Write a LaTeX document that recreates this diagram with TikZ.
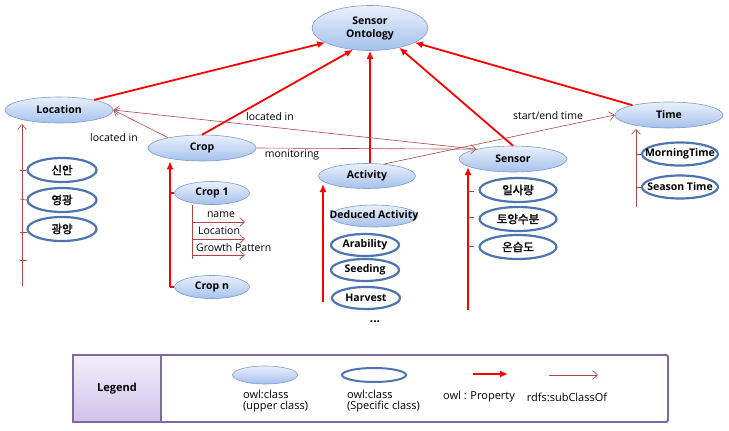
\documentclass[tikz,border=0pt]{standalone}
\usepackage{fontspec}
\setmainfont{Open Sans}
\newfontfamily\kr[AutoFakeBold=1.8]{Noto Sans CJK KR}
\usetikzlibrary{arrows.meta,shapes.geometric}

\definecolor{specblue}{RGB}{79,117,176}
\definecolor{upedge}{RGB}{125,155,205}
\definecolor{uptop}{RGB}{234,240,252}
\definecolor{upbot}{RGB}{165,193,236}
\definecolor{subred}{RGB}{175,70,70}
\definecolor{legline}{RGB}{128,104,160}
\definecolor{legtop}{RGB}{242,238,250}
\definecolor{legbot}{RGB}{208,194,234}

\tikzset{
  nogrow/.style={execute at begin node={\hbox to 0pt\bgroup\hss},
                 execute at end node={\hss\egroup}},
  upper/.style={ellipse, draw=upedge, line width=0.6pt, top color=uptop,
                bottom color=upbot, inner sep=0pt,
                font=\fontsize{10.5}{13}\selectfont\bfseries},
  spec/.style={ellipse, draw=specblue, line width=2.2pt, fill=white,
               inner sep=0pt, font=\fontsize{10.5}{13}\selectfont\bfseries, nogrow},
  prop/.style={red, line width=1.8pt, -{Latex[length=8pt,width=7pt]}},
  propline/.style={red, line width=1.8pt},
  sub/.style={subred, line width=0.6pt, -{Straight Barb[length=5pt,width=9pt]}},
  tick/.style={subred, line width=0.6pt},
  lbl/.style={inner sep=0pt, font=\fontsize{10.5}{11}\selectfont},
  leglbl/.style={inner sep=0pt, font=\fontsize{11}{11}\selectfont},
  krtxt/.style={font=\fontsize{11.5}{13}\selectfont\bfseries\kr}
}

\begin{document}
\begin{tikzpicture}[x=1pt,y=-1pt]
\useasboundingbox (0,0) rectangle (729,431);

% upper classes
\node[upper, minimum width=116pt, minimum height=45pt, align=center] (onto) at (370,28) {Sensor\\Ontology};
\node[upper, nogrow, minimum width=108pt, minimum height=26pt] (loc) at (59,110) {Location};
\node[upper, nogrow, minimum width=108pt, minimum height=26pt] (crop) at (202,148) {Crop};
\node[upper, nogrow, minimum width=97pt, minimum height=25pt] (act) at (367,176) {Activity};
\node[upper, nogrow, minimum width=108pt, minimum height=26pt] (sens) at (513,159) {Sensor};
\node[upper, nogrow, minimum width=108pt, minimum height=26pt] (time) at (669,115) {Time};

\draw[prop] (loc.16) -- (onto.198);
\draw[prop] (crop.north) -- (onto.232);
\draw[prop] (onto.south |- act.north) -- (onto.south);
\draw[prop] (sens.north) -- (onto.326);
\draw[prop] (time.165) -- (onto.342);

\draw[sub] (crop.163) -- (loc.east);
\draw[sub] (sens.165) -- (loc.east);
\draw[sub] (crop.east) -- (sens.165);
\draw[sub] (act.35) -- (time.west);
\node[lbl] (lblCropLoc) at (114,138) {located in};
\node[lbl] (lblSensLoc) at (270,117) {located in};
\node[lbl] (lblMon) at (292,155) {monitoring};
\node[lbl] (lblTime) at (548,116) {start/end time};

% Location
\node[spec, krtxt, minimum width=69pt, minimum height=24pt] (sinan) at (62,170) {신안};
\node[spec, krtxt, minimum width=69pt, minimum height=24pt] (yeong) at (62,200) {영광};
\node[spec, krtxt, minimum width=69pt, minimum height=24pt] (gwang) at (62,229) {광양};
\coordinate (locTop) at (22,124);
\coordinate (locBot) at (22,286);
\draw[sub] (locBot) -- (locTop);
\draw[tick] (20,170) -- (sinan.west);
\draw[tick] (20,199) -- (yeong.west);
\draw[tick] (20,232) -- ++(7,0);
\draw[tick] (20,260) -- ++(7,0);

% Crop
\node[upper, nogrow, minimum width=75pt, minimum height=23pt] (crop1) at (212,193) {Crop 1};
\node[upper, nogrow, minimum width=75pt, minimum height=23pt] (cropn) at (212,287) {Crop n};
\coordinate (cropBot) at (170,287);
\draw[prop] (cropBot) -- (cropBot |- crop.south);
\draw[propline] (cropBot |- crop1.west) -- (crop1.west);
\draw[propline] (cropBot |- cropn.west) -- (cropn.west);
\coordinate (attTop) at (192,205);
\coordinate (attBot) at (192,259);
\draw[tick] (attTop) -- (attBot);
\draw[sub] (192,222) -- ++(53,0);
\draw[sub] (192,239) -- ++(53,0);
\draw[sub] (192,255) -- ++(53,0);
\node[lbl] (attName) at (221,215) {name};
\node[lbl, anchor=west] (attLoc) at (198,231) {Location};
\node[lbl, anchor=west] (attGrow) at (196,248) {Growth Pattern};

% Activity
\node[upper, nogrow, minimum width=87pt, minimum height=22pt] (deduced) at (374,216) {Deduced Activity};
\node[spec, minimum width=68pt, minimum height=22pt] (arab) at (365,245) {Arability};
\node[spec, minimum width=68pt, minimum height=22pt] (seed) at (365,270) {Seeding};
\node[spec, minimum width=68pt, minimum height=22pt] (harv) at (366,298) {Harvest};
\node[font=\fontsize{12}{13}\selectfont\bfseries, inner sep=0pt] (actMore) at (375,322) {...};
\coordinate (actBot) at (323,302);
\draw[prop] (actBot) -- (323,184);

% Sensor
\node[spec, krtxt, minimum width=77pt, minimum height=24pt] (ilsa) at (518,190) {일사량};
\node[spec, krtxt, minimum width=77pt, minimum height=24pt] (toyang) at (518,219) {토양수분};
\node[spec, krtxt, minimum width=77pt, minimum height=24pt] (onseup) at (518,247) {온습도};
\coordinate (sensBot) at (468,310);
\draw[prop] (sensBot) -- (468,167);
\draw[tick] (468,191) -- ++(6,0);
\draw[tick] (468,217) -- ++(6,0);
\draw[tick] (468,246) -- ++(6,0);

% Time
\node[spec, minimum width=76pt, minimum height=23pt] (morning) at (680,154) {MorningTime};
\node[spec, minimum width=76pt, minimum height=23pt] (season) at (680,187) {Season Time};
\coordinate (timeBot) at (636,207);
\draw[sub] (timeBot) -- (636,129);
\draw[tick] (timeBot |- morning.west) -- (morning.west);
\draw[tick] (timeBot |- season.west) -- (season.west);

% legend
\node[draw=legline, line width=1.8pt, rounded corners=1.5pt, minimum width=595pt, minimum height=67pt, inner sep=0pt] (legbox) at (370.5,388.5) {};
\node[draw=legline, line width=1.2pt, top color=legtop, bottom color=legbot, minimum width=88pt, minimum height=67pt, inner sep=0pt, font=\fontsize{11}{12}\selectfont\bfseries] (legcell) at (117,388.5) {Legend};
\node[upper, minimum width=65pt, minimum height=18pt] (legUp) at (265,375) {};
\node[spec, line width=2pt, minimum width=64pt, minimum height=14pt] (legSpec) at (374,375) {};
\coordinate (legPa) at (473,374);
\coordinate (legPb) at (508,374);
\draw[prop] (legPa) -- (legPb);
\coordinate (legSa) at (549,375);
\coordinate (legSb) at (598,375);
\draw[sub] (legSa) -- (legSb);
\node[leglbl, anchor=north west, align=left] (legUpTxt) at (243,390) {owl:class\\(upper class)};
\node[leglbl, anchor=north west, align=left] (legSpecTxt) at (347,390) {owl:class\\(Specific class)};
\node[leglbl] (legPropTxt) at (479,397) {owl : Property};
\node[leglbl] (legSubTxt) at (567,397) {rdfs:subClassOf};
\end{tikzpicture}
\end{document}
